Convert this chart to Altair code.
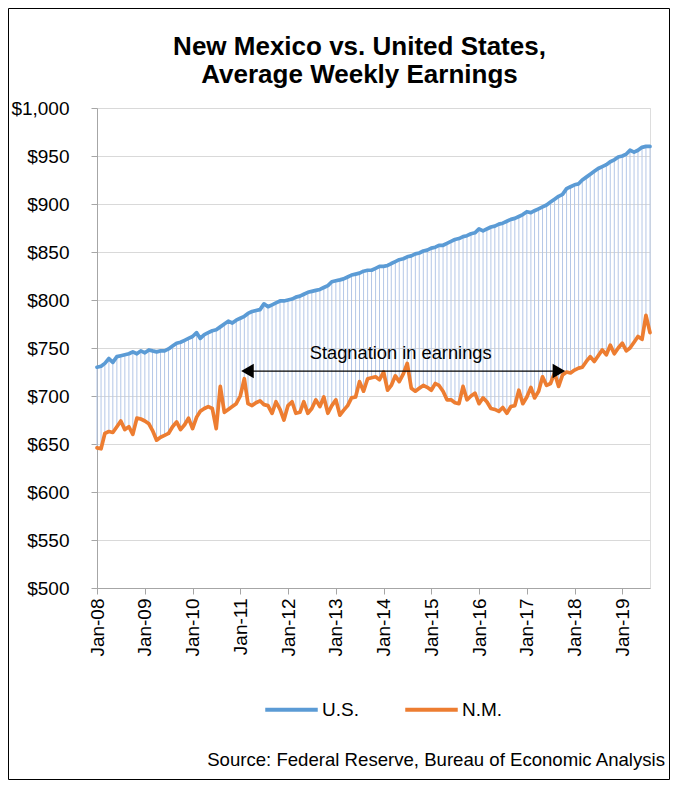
import altair as alt
import pandas as pd

# ---------------- data ----------------
months = pd.date_range("2008-01-01", periods=140, freq="MS").strftime("%Y-%m-%d").tolist()

us = [730, 731, 734, 739, 735, 741, 742, 743, 744, 746, 744, 747,
      745, 748, 747, 746, 747, 747, 749, 752, 755, 756, 758, 760,
      762, 766, 760, 764, 766, 768, 769, 772, 775, 778, 776, 779,
      781, 783, 786, 788, 789, 790, 796, 793, 795, 797, 799, 799,
      800, 801, 803, 804, 806, 808, 809, 810, 811, 813, 815, 819,
      820, 821, 822, 824, 826, 827, 828, 830, 831, 831, 833, 835,
      835, 836, 838, 840, 842, 843, 845, 846, 848, 849, 851, 852,
      854, 855, 857, 857, 859, 861, 863, 864, 866, 867, 869, 870,
      874, 872, 874, 876, 877, 879, 880, 882, 884, 885, 887, 889,
      892, 891, 893, 895, 897, 899, 902, 905, 908, 910, 916, 918,
      920, 921, 925, 928, 931, 934, 937, 939, 941, 944, 946, 949,
      950, 952, 956, 954, 956, 959, 960, 960]

nm = [646, 645, 661, 663, 662, 668, 674, 665, 668, 660, 677, 676,
      674, 671, 664, 654, 657, 659, 661, 668, 673, 665, 670, 677,
      666, 678, 684, 687, 689, 687, 666, 710, 683, 686, 689, 692,
      700, 718, 692, 690, 693, 695, 691, 690, 682, 694, 686, 675,
      690, 694, 682, 683, 694, 682, 687, 696, 689, 699, 682, 690,
      696, 680, 685, 690, 698, 699, 715, 705, 718, 719, 720, 717,
      725, 706, 711, 721, 715, 723, 734, 708, 705, 708, 711, 709,
      706, 713, 711, 705, 696, 696, 693, 692, 710, 696, 700, 703,
      692, 698, 694, 687, 686, 684, 688, 682, 689, 690, 706, 692,
      699, 709, 698, 705, 720, 711, 713, 724, 710, 722, 725, 724,
      727, 729, 730, 736, 741, 736, 742, 748, 743, 753, 744, 750,
      755, 747, 750, 756, 762, 759, 784, 766]

series_names = ["U.S.", "N.M."]
series_colors = ["#5B9BD5", "#ED7D31"]
year_ticks = list(range(2008, 2020))
y_ticks = list(range(500, 1001, 50))

arrow_line_dates = ["2011-02-25", "2017-09-03"]
arrow_head_dates = ["2011-02-25", "2017-09-03"]
arrow_head_shapes = ["triangle-left", "triangle-right"]
arrow_value = [726, 726]
note_date = ["2014-05-12"]
note_value = [739]
note_text = ["Stagnation in earnings"]
source_text = ["Source: Federal Reserve, Bureau of Economic Analysis"]
title_text = ["New Mexico vs. United States,\nAverage Weekly Earnings"]

# ---------------- tables ----------------
wide = pd.DataFrame({"date": months, "us": us, "nm": nm})
long = pd.concat([
    pd.DataFrame({"date": months, "value": us, "series": series_names[0]}),
    pd.DataFrame({"date": months, "value": nm, "series": series_names[1]}),
], ignore_index=True)
arrow_line = pd.DataFrame({"start": [arrow_line_dates[0]], "end": [arrow_line_dates[1]],
                           "value": [arrow_value[0]]})
arrow_heads = pd.DataFrame({"date": arrow_head_dates, "value": arrow_value,
                            "shape": arrow_head_shapes})
note = pd.DataFrame({"date": note_date, "value": note_value, "text": note_text})
source = pd.DataFrame({"text": source_text})
title_df = pd.DataFrame({"text": title_text})

FONT = "Liberation Sans"
W, H = 553, 480

x_scale = alt.Scale(type="utc",
                    domain=[alt.DateTime(year=2008, month=1, date=1, utc=True),
                            alt.DateTime(year=2019, month=8, date=1, utc=True)])
x_axis = alt.Axis(values=[alt.DateTime(year=y, month=1, date=1, utc=True) for y in year_ticks],
                  format="%b-%y", labelAngle=270, title=None, grid=False,
                  domainColor="#A6A6A6", tickColor="#A6A6A6", tickSize=6,
                  labelPadding=4, labelFontSize=19, labelColor="#000000", labelFont=FONT)
y_scale = alt.Scale(domain=[500, 1000], nice=False, zero=False)
y_axis = alt.Axis(values=y_ticks, format="$,.0f", title=None, grid=True,
                  gridColor="#D9D9D9", gridWidth=1.2,
                  domainColor="#A6A6A6", tickColor="#A6A6A6", tickSize=6,
                  labelPadding=22, labelFontSize=19, labelColor="#000000", labelFont=FONT)

X = lambda f: alt.X(f, type="temporal", scale=x_scale, axis=x_axis)
Y = lambda f: alt.Y(f, type="quantitative", scale=y_scale, axis=y_axis)

rules = alt.Chart(wide).mark_rule(color="#B4C7E7", strokeWidth=1).encode(
    x=X("date"), y=Y("nm"), y2="us:Q")

lines = alt.Chart(long).mark_line(strokeWidth=3.7, strokeCap="round", strokeJoin="round").encode(
    x=X("date"), y=Y("value"),
    color=alt.Color("series:N",
                    scale=alt.Scale(domain=series_names, range=series_colors),
                    legend=alt.Legend(orient="none", legendX=166, legendY=573,
                                      direction="horizontal", title=None,
                                      symbolType="stroke", symbolSize=2756,
                                      symbolStrokeWidth=4, labelFontSize=19,
                                      labelFont=FONT, labelColor="#000000",
                                      labelOffset=2, columnPadding=38, padding=0)))

arrow = alt.Chart(arrow_line).mark_rule(color="#000000", strokeWidth=1.3).encode(
    x=X("start"), x2="end:T", y=Y("value"))

heads = alt.Chart(arrow_heads).mark_point(filled=True, color="#000000", size=210, opacity=1).encode(
    x=X("date"), y=Y("value"), shape=alt.Shape("shape:N", scale=None))

note_layer = alt.Chart(note).mark_text(fontSize=18.3, font=FONT, color="#000000",
                                       align="center", baseline="alphabetic").encode(
    x=X("date"), y=Y("value"), text="text:N")

source_layer = alt.Chart(source).mark_text(fontSize=18.6, font=FONT, color="#000000",
                                           align="right", baseline="alphabetic").encode(
    x=alt.value(568), y=alt.value(658), text="text:N")

title_layer = alt.Chart(title_df).mark_text(fontSize=26, font=FONT, fontWeight="bold",
                                            color="#000000", align="center",
                                            baseline="alphabetic", lineBreak="\n",
                                            lineHeight=28).encode(
    x=alt.value(262.5), y=alt.value(-53), text="text:N")

border = alt.Chart(source).mark_rect(filled=False, stroke="#000000", strokeWidth=1).encode(
    x=alt.value(-88.5), x2=alt.value(W + 19.5), y=alt.value(-99.5), y2=alt.value(H + 191.5))

chart = alt.layer(rules, lines, arrow, heads, note_layer, source_layer, title_layer, border).properties(
    width=W, height=H,
    padding={"left": 89, "top": 100, "right": 20, "bottom": 192},
    autosize=alt.AutoSizeParams(type="none"),
).configure_view(stroke=None).configure(font=FONT, background="#FFFFFF")

chart.save("out.html", embed_options={"renderer": "svg", "actions": False})
